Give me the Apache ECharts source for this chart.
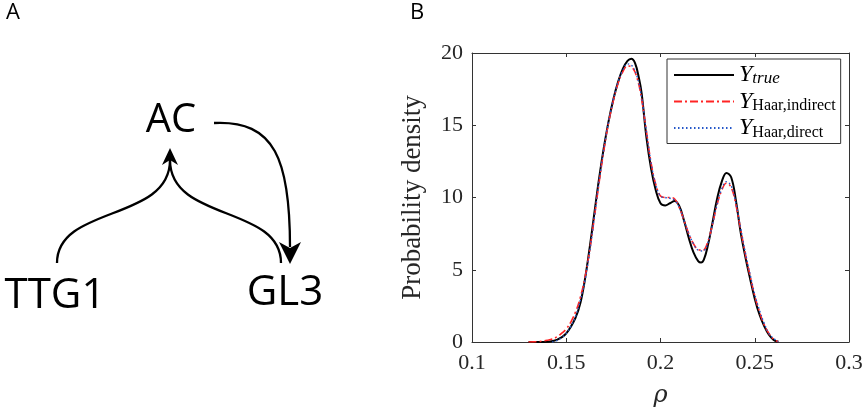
<!DOCTYPE html>
<html>
<head>
<meta charset="utf-8">
<script src="https://cdn.jsdelivr.net/npm/echarts@6/dist/echarts.min.js"></script>
<style>html,body{margin:0;padding:0;background:#fff}#c{width:867px;height:413px}</style>
</head>
<body>
<div id="c"></div>
<script>
// ---- data ----
const rhoTrue = [0.130,0.135,0.140,0.145,0.150,0.155,0.1575,0.160,0.1625,0.165,0.1675,0.170,0.1725,0.175,0.1775,0.180,0.1825,0.1845,0.1865,0.1885,0.190,0.1925,0.195,0.1975,0.200,0.2025,0.205,0.2075,0.210,0.2125,0.215,0.2175,0.220,0.2215,0.223,0.225,0.2275,0.230,0.2325,0.235,0.2375,0.240,0.2425,0.245,0.2475,0.250,0.2525,0.255,0.2575,0.260,0.2625];
const yTrue = [0,0,0.02,0.15,0.6,1.7,2.7,4.4,6.6,9.0,11.4,13.5,15.3,16.8,18.0,18.9,19.45,19.6,19.3,18.3,17.2,14.2,12.0,10.5,9.6,9.45,9.6,9.75,9.4,8.4,7.2,6.2,5.6,5.5,5.7,6.6,8.2,9.9,11.1,11.7,11.4,9.8,7.6,5.9,4.4,3.0,1.9,1.1,0.5,0.15,0.02];

const rhoIndirect = [0.130,0.1325,0.135,0.1375,0.140,0.1425,0.145,0.1475,0.150,0.1525,0.155,0.1575,0.160,0.1625,0.165,0.1675,0.170,0.1725,0.175,0.1775,0.180,0.1825,0.185,0.1875,0.190,0.1925,0.195,0.1975,0.200,0.2025,0.205,0.2075,0.210,0.2125,0.215,0.2175,0.220,0.2225,0.225,0.2275,0.230,0.2325,0.235,0.2375,0.240,0.2425,0.245,0.2475,0.250,0.2525,0.255,0.2575,0.260,0.2625];
const yIndirect = [0,0.01,0.03,0.06,0.12,0.2,0.35,0.6,0.9,1.4,2.1,3.1,4.5,6.4,8.7,11.1,13.3,15.2,16.7,17.9,18.7,19.1,19.0,18.3,16.8,14.6,12.4,10.9,10.1,10.0,10.0,9.9,9.3,8.4,7.5,6.8,6.4,6.35,6.9,8.1,9.5,10.5,11.0,10.7,9.5,7.8,6.1,4.6,3.2,2.1,1.2,0.6,0.2,0.02];

const rhoDirect = [0.1425,0.145,0.1475,0.150,0.1525,0.155,0.1575,0.160,0.1625,0.165,0.1675,0.170,0.1725,0.175,0.1775,0.180,0.1825,0.185,0.1875,0.190,0.1925,0.195,0.1975,0.200,0.2025,0.205,0.2075,0.210,0.2125,0.215,0.2175,0.220,0.2225,0.225,0.2275,0.230,0.2325,0.235,0.2375,0.240,0.2425,0.245,0.2475,0.250,0.2525,0.255,0.2575,0.260,0.2625];
const yDirect = [0,0.1,0.3,0.6,1.1,1.8,2.9,4.3,6.3,8.7,11.2,13.4,15.3,16.8,18.0,18.8,19.25,19.1,18.4,16.9,14.6,12.4,10.9,10.1,10.0,9.95,9.8,9.3,8.4,7.5,6.8,6.35,6.3,6.8,8.1,9.5,10.6,11.1,10.8,9.6,7.9,6.2,4.7,3.3,2.2,1.3,0.6,0.25,0.03];

const seriesNames = ['Y_true','Y_Haar,indirect','Y_Haar,direct'];
const xTicks = [0.1,0.15,0.2,0.25,0.3];
const yTicks = [0,5,10,15,20];
const nodeLabels = ['AC','TTG1','GL3'];
const panelLabels = ['A','B'];

function zip(a,b){return a.map((v,i)=>[v,b[i]]);}

const serif = 'Liberation Serif';
const sans = '"Open Sans", "Noto Sans", sans-serif';
const axisCol = '#333333';
const txtCol = '#262626';

const chart = echarts.init(document.getElementById('c'), null, {renderer:'canvas'});

const ink = '#000';
const lw = 2.3;
const tickRich = {t:{fontFamily:serif, fontSize:22, color:txtCol}};

const option = {
  animation:false,
  backgroundColor:'#fff',
  textStyle:{fontFamily:serif},
  grid:{left:472, right:18, top:53, bottom:71, containLabel:false},
  xAxis:[{
    type:'value', min:xTicks[0], max:xTicks[xTicks.length-1], interval:0.05,
    position:'bottom',
    axisLine:{show:true, onZero:false, lineStyle:{color:axisCol, width:1}},
    axisTick:{show:true, inside:true, length:4, lineStyle:{color:axisCol}},
    axisLabel:{color:txtCol, fontFamily:serif, fontSize:22, margin:10, rich:tickRich,
      formatter:v=>'{t|'+String(+(+v).toFixed(2))+'}'},
    splitLine:{show:false},
    name:'{r|ρ}', nameLocation:'middle', nameGap:42,
    nameTextStyle:{fontFamily:'DejaVu Serif', fontStyle:'italic', fontSize:24, color:txtCol,
      rich:{r:{fontFamily:'DejaVu Serif', fontStyle:'italic', fontSize:24, color:txtCol}}}
  },{
    type:'value', min:xTicks[0], max:xTicks[xTicks.length-1], interval:0.05,
    position:'top',
    axisLine:{show:true, onZero:false, lineStyle:{color:axisCol, width:1}},
    axisTick:{show:true, inside:true, length:4, lineStyle:{color:axisCol}},
    axisLabel:{show:false}, splitLine:{show:false}
  }],
  yAxis:[{
    type:'value', min:yTicks[0], max:yTicks[yTicks.length-1], interval:5,
    position:'left',
    axisLine:{show:true, onZero:false, lineStyle:{color:axisCol, width:1}},
    axisTick:{show:true, inside:true, length:4, lineStyle:{color:axisCol}},
    axisLabel:{color:txtCol, fontFamily:serif, fontSize:22, margin:9, rich:tickRich,
      formatter:v=>'{t|'+v+'}'},
    splitLine:{show:false},
    name:'Probability density', nameLocation:'middle', nameGap:46,
    nameTextStyle:{fontFamily:serif, fontSize:27, color:txtCol}
  },{
    type:'value', min:yTicks[0], max:yTicks[yTicks.length-1], interval:5,
    position:'right',
    axisLine:{show:true, onZero:false, lineStyle:{color:axisCol, width:1}},
    axisTick:{show:true, inside:true, length:4, lineStyle:{color:axisCol}},
    axisLabel:{show:false}, splitLine:{show:false}
  }],
  legend:{
    orient:'vertical', left:667, top:59,
    padding:[4,5,3,6],
    borderColor:axisCol, borderWidth:1, backgroundColor:'#fff',
    itemWidth:60, itemHeight:14, itemGap:2,
    itemStyle:{opacity:0, borderWidth:0},
    data:seriesNames,
    formatter:function(name){
      if(name==='Y_true') return '{y|Y}{si|true}';
      const sub = name.split('_')[1];
      return '{y|Y}{sr|'+sub+'}';
    },
    textStyle:{
      color:'#000', fontFamily:serif,
      rich:{
        y:{fontFamily:serif, fontStyle:'italic', fontSize:24, lineHeight:25, color:'#000'},
        si:{fontFamily:serif, fontStyle:'italic', fontSize:17, lineHeight:25, verticalAlign:'bottom', color:'#000'},
        sr:{fontFamily:serif, fontSize:16, lineHeight:25, verticalAlign:'bottom', color:'#000'}
      }
    }
  },
  series:[
    {name:seriesNames[0], type:'line', data:zip(rhoTrue,yTrue), showSymbol:false, symbol:'none',
      smooth:0.4, lineStyle:{color:'#000', width:2, type:'solid'}, itemStyle:{color:'#000'}, z:2},
    {name:seriesNames[1], type:'line', data:zip(rhoIndirect,yIndirect), showSymbol:false, symbol:'none',
      smooth:0.4, lineStyle:{color:'#ff2424', width:1.6, type:[8,3,2,3]}, itemStyle:{color:'#ff2424'}, z:3},
    {name:seriesNames[2], type:'line', data:zip(rhoDirect,yDirect), showSymbol:false, symbol:'none',
      smooth:0.4, lineStyle:{color:'#2457c8', width:1.4, type:[1.5,2.5]}, itemStyle:{color:'#2457c8'}, z:4}
  ],
  graphic:[
    {type:'text', left:6, top:2, style:{text:panelLabels[0], font:'22px '+sans, fill:'#000'}},
    {type:'text', left:410, top:2, style:{text:panelLabels[1], font:'22px '+sans, fill:'#000'}},
    {type:'text', x:171, y:121, style:{text:nodeLabels[0], font:'40px '+sans, fill:'#000', textAlign:'center', textVerticalAlign:'middle'}},
    {type:'text', x:55, y:296, style:{text:nodeLabels[1], font:'42px '+sans, fill:'#000', textAlign:'center', textVerticalAlign:'middle'}},
    {type:'text', x:285, y:293, style:{text:nodeLabels[2], font:'42px '+sans, fill:'#000', textAlign:'center', textVerticalAlign:'middle'}},
    {type:'bezierCurve', shape:{x1:57,y1:263,cpx1:57,cpy1:205,cpx2:170,cpy2:222,x2:170,y2:160},
      style:{stroke:ink, lineWidth:lw, fill:null}},
    {type:'bezierCurve', shape:{x1:281,y1:263,cpx1:281,cpy1:205,cpx2:170,cpy2:222,x2:170,y2:160},
      style:{stroke:ink, lineWidth:lw, fill:null}},
    {type:'bezierCurve', shape:{x1:214,y1:123,cpx1:275,cpy1:120,cpx2:290,cpy2:160,x2:290,y2:247},
      style:{stroke:ink, lineWidth:lw, fill:null}},
    {type:'polygon', shape:{points:[[170,148],[162,165],[170,160],[178,165]]}, style:{fill:ink}},
    {type:'polygon', shape:{points:[[290,264],[279,242],[290,248],[301,242]]}, style:{fill:ink}}
  ]
};
chart.setOption(option);
</script>
</body>
</html>
